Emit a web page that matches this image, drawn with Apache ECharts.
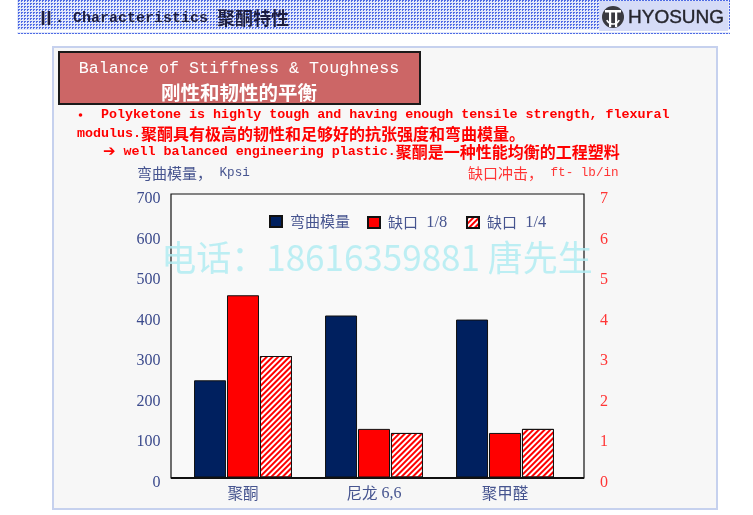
<!DOCTYPE html>
<html>
<head>
<meta charset="utf-8">
<script src="https://cdn.jsdelivr.net/npm/echarts@6/dist/echarts.min.js"></script>
<style>
  html, body { margin: 0; padding: 0; background: #ffffff; }
  #chart { width: 753px; height: 515px; }
</style>
</head>
<body>
<div id="chart"></div>
<script>
// ---- data ----
const categories = ['聚酮', '尼龙 6,6', '聚甲醛'];
const seriesNames = ['弯曲模量', '缺口 1/8', '缺口 1/4'];
const flexModulus = [240, 400, 390];   // Kpsi (left axis)
const notchEighth = [4.5, 1.2, 1.1];   // ft-lb/in (right axis)
const notchQuarter = [3.0, 1.1, 1.2];  // ft-lb/in (right axis)
const leftAxisRange = [0, 700, 100];
const rightAxisRange = [0, 7, 1];

// ---- text ----
const headerText = 'Ⅱ. Characteristics 聚酮特性';
const boxLine1 = 'Balance of Stiffness & Toughness';
const boxLine2 = '刚性和韧性的平衡';
const bullet1 = 'Polyketone is highly tough and having enough tensile strength, flexural';
const bullet2 = 'modulus.聚酮具有极高的韧性和足够好的抗张强度和弯曲模量。';
const bullet3 = ' well balanced engineering plastic.聚酮是一种性能均衡的工程塑料';
const leftTitle = '弯曲模量， Kpsi';
const rightTitle = '缺口冲击， ft- lb/in';
const watermark = '电话：18616359881 唐先生';

// split a string into latin / CJK runs for rich text
const CJK = /([\u2160-\u217F\u2E80-\u9FFF\u3000-\u303F\uFF00-\uFFEF]+)/;
function mixed(str) {
  return str.split(CJK).filter(s => s.length).map(s =>
    (CJK.test(s) ? '{c|' : '{l|') + s + '}').join('');
}
function richPair(latinSize, cjkSize, color, weight) {
  return {
    l: { fontFamily: 'Liberation Mono', fontSize: latinSize, fontWeight: weight, fill: color, color: color },
    c: { fontFamily: 'Noto Sans CJK SC', fontSize: cjkSize, fontWeight: weight, fill: color, color: color },
    a: { fontFamily: 'DejaVu Sans', fontSize: 15, fontWeight: 'bold', fill: color, color: color }
  };
}

// small dotted tile for the header band
function dotTile() {
  const cv = document.createElement('canvas');
  cv.width = 3; cv.height = 3;
  const g = cv.getContext('2d');
  g.fillStyle = '#e3e9fb'; g.fillRect(0, 0, 3, 3);
  g.fillStyle = '#4f6be4'; g.fillRect(0, 0, 2, 1); g.fillRect(0, 1, 1, 1);
  return cv;
}
const dots = { image: dotTile(), repeat: 'repeat' };

const navy = '#00205f';
const red = '#ff0000';
const axisBlue = '#46548f';
const axisRed = '#ff3535';

function txt(x, y, text, rich, align, z) {
  return {
    type: 'text', z: z || 10, silent: true,
    style: { x: x, y: y, text: text, rich: rich, align: align || 'left', textAlign: align || 'left',
             verticalAlign: 'middle', textVerticalAlign: 'middle' }
  };
}

const chart = echarts.init(document.getElementById('chart'), null, { renderer: 'canvas' });

const graphics = [
  // header band
  { type: 'rect', z: 0, shape: { x: 17, y: 0, width: 713, height: 30 }, style: { fill: dots } },
  { type: 'rect', z: 0, shape: { x: 17, y: 32, width: 713, height: 2 }, style: { fill: dots } },
  { type: 'rect', z: 1, shape: { x: 599, y: 1, width: 129, height: 30 }, style: { fill: '#d5dbf7' } },
  txt(37, 18, mixed(headerText), richPair(15, 18, '#1d1d40', 'bold'), 'left'),
  // logo
  { type: 'circle', z: 2, shape: { cx: 613, cy: 17, r: 11 }, style: { fill: '#3a3a40' } },
  { type: 'rect', z: 3, shape: { x: 605, y: 10, width: 16, height: 2.5 }, style: { fill: '#fff' } },
  { type: 'rect', z: 3, shape: { x: 609, y: 12, width: 2.2, height: 15 }, style: { fill: '#fff' } },
  { type: 'rect', z: 3, shape: { x: 615, y: 12, width: 2.2, height: 15 }, style: { fill: '#fff' } },
  { type: 'arc', z: 3, shape: { cx: 613, cy: 17, r: 7, startAngle: Math.PI * 0.15, endAngle: Math.PI * 0.85 },
    style: { stroke: '#fff', lineWidth: 1.6, fill: null } },
  { type: 'text', z: 3, style: { x: 628, y: 18, text: 'HYOSUNG', font: '19px "Liberation Sans"',
    fill: '#25252d', stroke: '#25252d', lineWidth: 0.4,
    verticalAlign: 'middle', textVerticalAlign: 'middle' } },

  // content panel
  { type: 'rect', z: 0, shape: { x: 53, y: 47, width: 664, height: 462 },
    style: { fill: '#f7f7f7', stroke: '#c6d1ee', lineWidth: 2 } },

  // title box
  { type: 'rect', z: 2, shape: { x: 59, y: 52, width: 361, height: 52 },
    style: { fill: '#cc6666', stroke: '#1a1a1a', lineWidth: 2 } },
  txt(239, 69, mixed(boxLine1), richPair(16.7, 20, '#ffffff', 'normal'), 'center'),
  txt(239, 93, mixed(boxLine2), richPair(16.7, 19.5, '#ffffff', 'bold'), 'center'),

  // bullet text
  { type: 'circle', z: 10, shape: { cx: 80.5, cy: 115, r: 1.8 }, style: { fill: red } },
  txt(101, 115, mixed(bullet1), richPair(13.35, 16, red, 'bold'), 'left'),
  txt(77, 134, mixed(bullet2), richPair(13.35, 16, red, 'bold'), 'left'),
  txt(103, 152, '{a|➔}' + mixed(bullet3), richPair(13.35, 16, red, 'bold'), 'left'),

  // axis titles
  txt(137, 173, mixed(leftTitle), richPair(12.6, 15, axisBlue, 'normal'), 'left'),
  txt(468, 173, mixed(rightTitle), richPair(12.6, 15, axisRed, 'normal'), 'left'),

  // plot frame
  { type: 'rect', z: 5, shape: { x: 171, y: 194, width: 413, height: 284 },
    style: { fill: '#f9f9f9', stroke: '#111111', lineWidth: 1.2 } },
  { type: 'line', z: 20, shape: { x1: 171, y1: 478, x2: 584, y2: 478 },
    style: { stroke: '#111111', lineWidth: 1.8 } },

  // watermark
  { type: 'text', z: 30, silent: true,
    style: { x: 377, y: 258, text: watermark, font: '35px "Noto Sans CJK SC"',
      fill: 'rgba(178,236,242,0.85)', align: 'center', textAlign: 'center',
      verticalAlign: 'middle', textVerticalAlign: 'middle',
      shadowColor: 'rgba(255,255,255,0.9)', shadowBlur: 3 } }
];

const legendRich = {
  c: { fontFamily: 'Noto Sans CJK SC', fontSize: 15, color: axisBlue },
  l: { fontFamily: 'Liberation Serif', fontSize: 16.5, color: axisBlue, padding: [0, 0, 0, 4] }
};
// one legend block per series so each key sits at its own spot
const legendLefts = [269, 367, 466];
const legends = seriesNames.map((name, i) => ({
  left: legendLefts[i], top: 214, itemWidth: 12, itemHeight: 11, z: 25,
  icon: 'rect', data: [name], padding: 0,
  formatter: n => mixed(n),
  textStyle: { rich: legendRich, padding: [0, 0, 0, 3] }
}));

const barBorder = { borderColor: '#111111', borderWidth: 1 };

// tick labels sit a few pixels below their tick, as in the printed sheet
function tickLabel(color) {
  return {
    color: color,
    formatter: v => '{v|' + v + '}',
    rich: { v: { fontFamily: 'Liberation Serif', fontSize: 16, color: color, padding: [10, 0, 0, 0] } }
  };
}

chart.setOption({
  animation: false,
  backgroundColor: 'transparent',
  graphic: { elements: graphics },
  grid: { left: 177.5, right: 182.5, top: 194, bottom: 37.5, containLabel: false, z: 8 },
  legend: legends,
  xAxis: {
    type: 'category', data: categories, z: 25,
    axisLine: { show: false }, axisTick: { show: false },
    axisLabel: {
      margin: 8,
      formatter: v => mixed(v),
      rich: {
        c: { fontFamily: 'Noto Sans CJK SC', fontSize: 15.5, color: axisBlue },
        l: { fontFamily: 'Liberation Serif', fontSize: 16, color: axisBlue }
      }
    }
  },
  yAxis: [
    Object.assign({
      type: 'value', min: leftAxisRange[0], max: leftAxisRange[1], interval: leftAxisRange[2],
      splitLine: { show: false }, axisLine: { show: false }, axisTick: { show: false }
    }, { axisLabel: Object.assign({ margin: 17 }, tickLabel('#3b4a8c')) }),
    Object.assign({
      type: 'value', min: rightAxisRange[0], max: rightAxisRange[1], interval: rightAxisRange[2],
      splitLine: { show: false }, axisLine: { show: false }, axisTick: { show: false }
    }, { axisLabel: Object.assign({ margin: 29.5 }, tickLabel(axisRed)) })
  ],
  series: [
    {
      name: seriesNames[0], type: 'bar', yAxisIndex: 0, z: 10,
      barWidth: 32, barGap: '3%', data: flexModulus,
      itemStyle: Object.assign({ color: navy }, barBorder)
    },
    {
      name: seriesNames[1], type: 'bar', yAxisIndex: 1, z: 10,
      barWidth: 32, barGap: '3%', data: notchEighth,
      itemStyle: Object.assign({ color: red }, barBorder)
    },
    {
      name: seriesNames[2], type: 'bar', yAxisIndex: 1, z: 10,
      barWidth: 32, barGap: '3%', data: notchQuarter,
      itemStyle: Object.assign({
        color: '#ffffff',
        decal: {
          symbol: 'rect', symbolSize: 1, color: red,
          dashArrayX: [1, 0], dashArrayY: [2, 2], rotation: -Math.PI / 4
        }
      }, barBorder)
    }
  ]
});
</script>
</body>
</html>
